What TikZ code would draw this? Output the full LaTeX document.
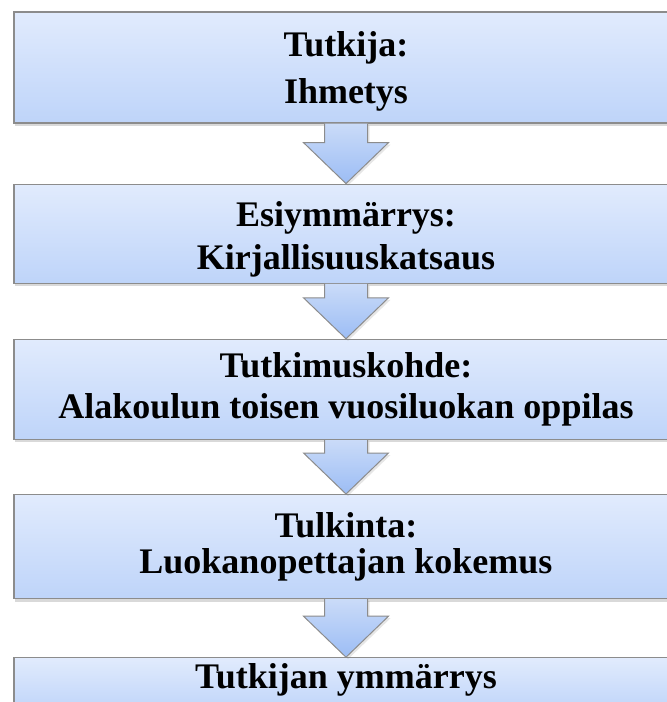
\documentclass[tikz,border=0pt]{standalone}
\usepackage{fontspec}
\setmainfont{Liberation Serif}
\usetikzlibrary{positioning, calc, shadows}

\definecolor{boxtop}{HTML}{E1EBFD}
\definecolor{boxbot}{HTML}{BED4F9}
\definecolor{arrtop}{HTML}{CADBF8}
\definecolor{arrbot}{HTML}{9CBDF5}
\definecolor{edgegray}{HTML}{8C8C8C}

\newcommand{\flowarrow}[2]{%
\draw [flowarr] ($(#1.south)+(-21.5,0)$)--($(#2.north)+(-21.5,-41)$)--($(#2.north)+(-42.5,-41)$)--(#2.north)
  --($(#2.north)+(42.5,-41)$)--($(#2.north)+(21.5,-41)$)--($(#1.south)+(21.5,0)$);}

\begin{document}
\begin{tikzpicture}[x=1pt,y=-1pt,
  stage/.style={draw=edgegray, line width=1.2pt, top color=boxtop, bottom color=boxbot, minimum width=664pt, inner sep=0pt, align=center, font=\bfseries\fontsize{36}{36}\selectfont, drop shadow={opacity=0.3, shadow xshift=1pt, shadow yshift=-3pt}},
  flowarr/.style={draw=edgegray, line width=1pt, top color=arrtop, bottom color=arrbot, drop shadow={opacity=0.2, shadow xshift=2pt, shadow yshift=-2pt}}]
\useasboundingbox (0,0) rectangle (667,702);
\node (tutkija) [stage, minimum height=111pt] at (346,67.5) {\rule{0pt}{32.5pt}Tutkija:\\[11pt]Ihmetys};
\node (esiym) [stage, minimum height=99pt, below=60pt of tutkija] {\rule{0pt}{36.5pt}Esiymmärrys:\\[7pt]Kirjallisuuskatsaus};
\node (kohde) [stage, minimum height=100pt, below=55pt of esiym] {Tutkimuskohde:\\[5pt]Alakoulun toisen vuosiluokan oppilas};
\node (tulkinta) [stage, minimum height=104pt, below=54pt of kohde] {Tulkinta:\\Luokanopettajan kokemus};
\node (ymm) [stage, minimum height=54pt, text depth=18pt, below=58pt of tulkinta] {Tutkijan ymmärrys};
\flowarrow{tutkija}{esiym}
\flowarrow{esiym}{kohde}
\flowarrow{kohde}{tulkinta}
\flowarrow{tulkinta}{ymm}
\end{tikzpicture}
\end{document}
